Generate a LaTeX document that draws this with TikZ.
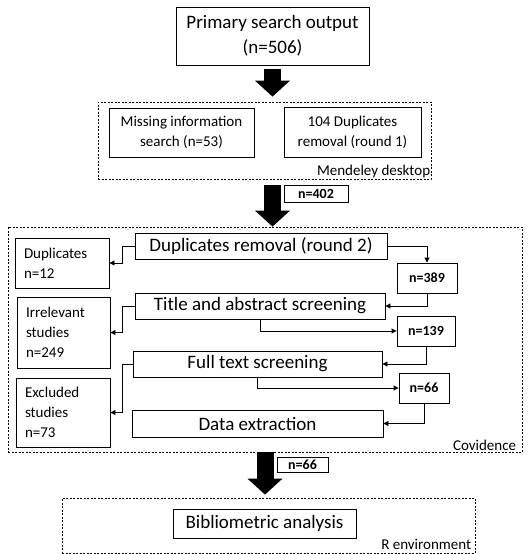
\documentclass[tikz,border=0pt]{standalone}
\usepackage{fontspec}
\setmainfont{Carlito}
\usepackage{tikz}
\usetikzlibrary{arrows.meta}
\tikzstyle{box} = [draw, line width=0.9pt, inner sep=0pt, align=center]
\tikzstyle{big} = [box, font=\fontsize{19}{25}\selectfont]
\tikzstyle{mid} = [box, font=\fontsize{15}{20}\selectfont]
\tikzstyle{side} = [draw, line width=0.9pt, inner xsep=9pt, inner ysep=0pt, align=left, font=\fontsize{15}{20}\selectfont]
\tikzstyle{num} = [box, font=\fontsize{14}{15}\selectfont\bfseries]
\tikzstyle{group} = [draw, dash pattern=on 2pt off 1.5pt, line width=0.7pt, inner sep=0pt]
\tikzstyle{grouplabel} = [anchor=south east, font=\fontsize{15}{16}\selectfont]
\tikzstyle{conn} = [line width=0.9pt, -{Triangle[length=5pt,width=5pt]}]
\tikzstyle{blockarrow} = [line width=17pt, -{Triangle[width=34pt,length=16pt]}]

\begin{document}
\begin{tikzpicture}[x=1pt,y=-1pt]
			\useasboundingbox (0,0) rectangle (530,554);
			\node[big, minimum width=193pt, minimum height=58pt] (prim) at (272.5,36) {Primary search output\\(n=506)};
			\node[group, minimum width=333pt, minimum height=77pt] (mendeley) at (264.5,140.5) {};
			\node[mid, minimum width=145pt, minimum height=49pt] (miss) at (181.5,132.5) {Missing information\\search (n=53)};
			\node[mid, minimum width=137pt, minimum height=50pt] (dupa) at (352.5,132) {104 Duplicates\\removal (round 1)};
			\node[grouplabel, inner sep=1pt] at (mendeley.south east) {Mendeley desktop};
			\node[num, minimum width=64pt, minimum height=17pt] (nfour) at (316,193.5) {n=402};
			\node[group, minimum width=514pt, minimum height=225pt] (covid) at (265,339.5) {};
			\node[side, text width=76pt, minimum height=50pt] (dups) at (62,263) {Duplicates\\n=12};
			\node[big, minimum width=252pt, minimum height=26pt] (dupb) at (261,246) {Duplicates removal (round 2)};
			\node[num, minimum width=60pt, minimum height=30pt] (nthree) at (427,278) {n=389};
			\node[big, minimum width=250pt, minimum height=26pt] (title) at (260,306) {Title and abstract screening};
			\node[side, text width=75pt, minimum height=71pt] (irrel) at (63.5,332.5) {Irrelevant\\studies\\n=249};
			\node[num, minimum width=58pt, minimum height=30pt] (nonethree) at (426,331) {n=139};
			\node[big, minimum width=249pt, minimum height=26pt] (full) at (257.5,364) {Full text screening};
			\node[side, text width=76pt, minimum height=69pt] (excl) at (63,412.5) {Excluded\\studies\\n=73};
			\node[num, minimum width=50pt, minimum height=30pt] (nsix) at (424,388) {n=66};
			\node[big, minimum width=251pt, minimum height=27pt] (data) at (257.5,423.5) {Data extraction};
			\node[grouplabel, inner xsep=6pt, inner ysep=2pt] at (covid.south east) {Covidence};
			\node[num, minimum width=51pt, minimum height=15pt] (nsixb) at (302.5,464.5) {n=66};
			\node[group, minimum width=413pt, minimum height=55pt] (renv) at (268.5,525.5) {};
			\node[big, minimum width=183pt, minimum height=29pt] (biblio) at (264.5,523.5) {Bibliometric analysis};
			\node[grouplabel, inner xsep=4pt, inner ysep=4pt] at (renv.south east) {R environment};
			\draw[blockarrow, shorten <=4pt, shorten >=5pt] (prim.south) -- (prim.south |- mendeley.north);
			\draw[blockarrow, shorten <=6pt] (prim.south |- mendeley.south) -- (prim.south |- covid.north);
			\draw[blockarrow, shorten >=3pt] (covid.south) -- (covid.south |- renv.north);
			\draw[conn] (dupb.west) -- ++(-12,0) |- (dups.east);
			\draw[conn] (dupb.east) -| (nthree.north);
			\draw[conn] (nthree.south) |- (title.east);
			\draw[conn] (title.west) -- ++(-12,0) |- (irrel.east);
			\draw[conn] (title.south) |- (nonethree.west);
			\draw[conn] (nonethree.south) |- (full.east);
			\draw[conn] (full.west) -- ++(-10,0) |- (excl.east);
			\draw[conn] (full.south) |- (nsix.west);
			\draw[conn] (nsix.south) |- (data.east);
		\end{tikzpicture}
\end{document}
